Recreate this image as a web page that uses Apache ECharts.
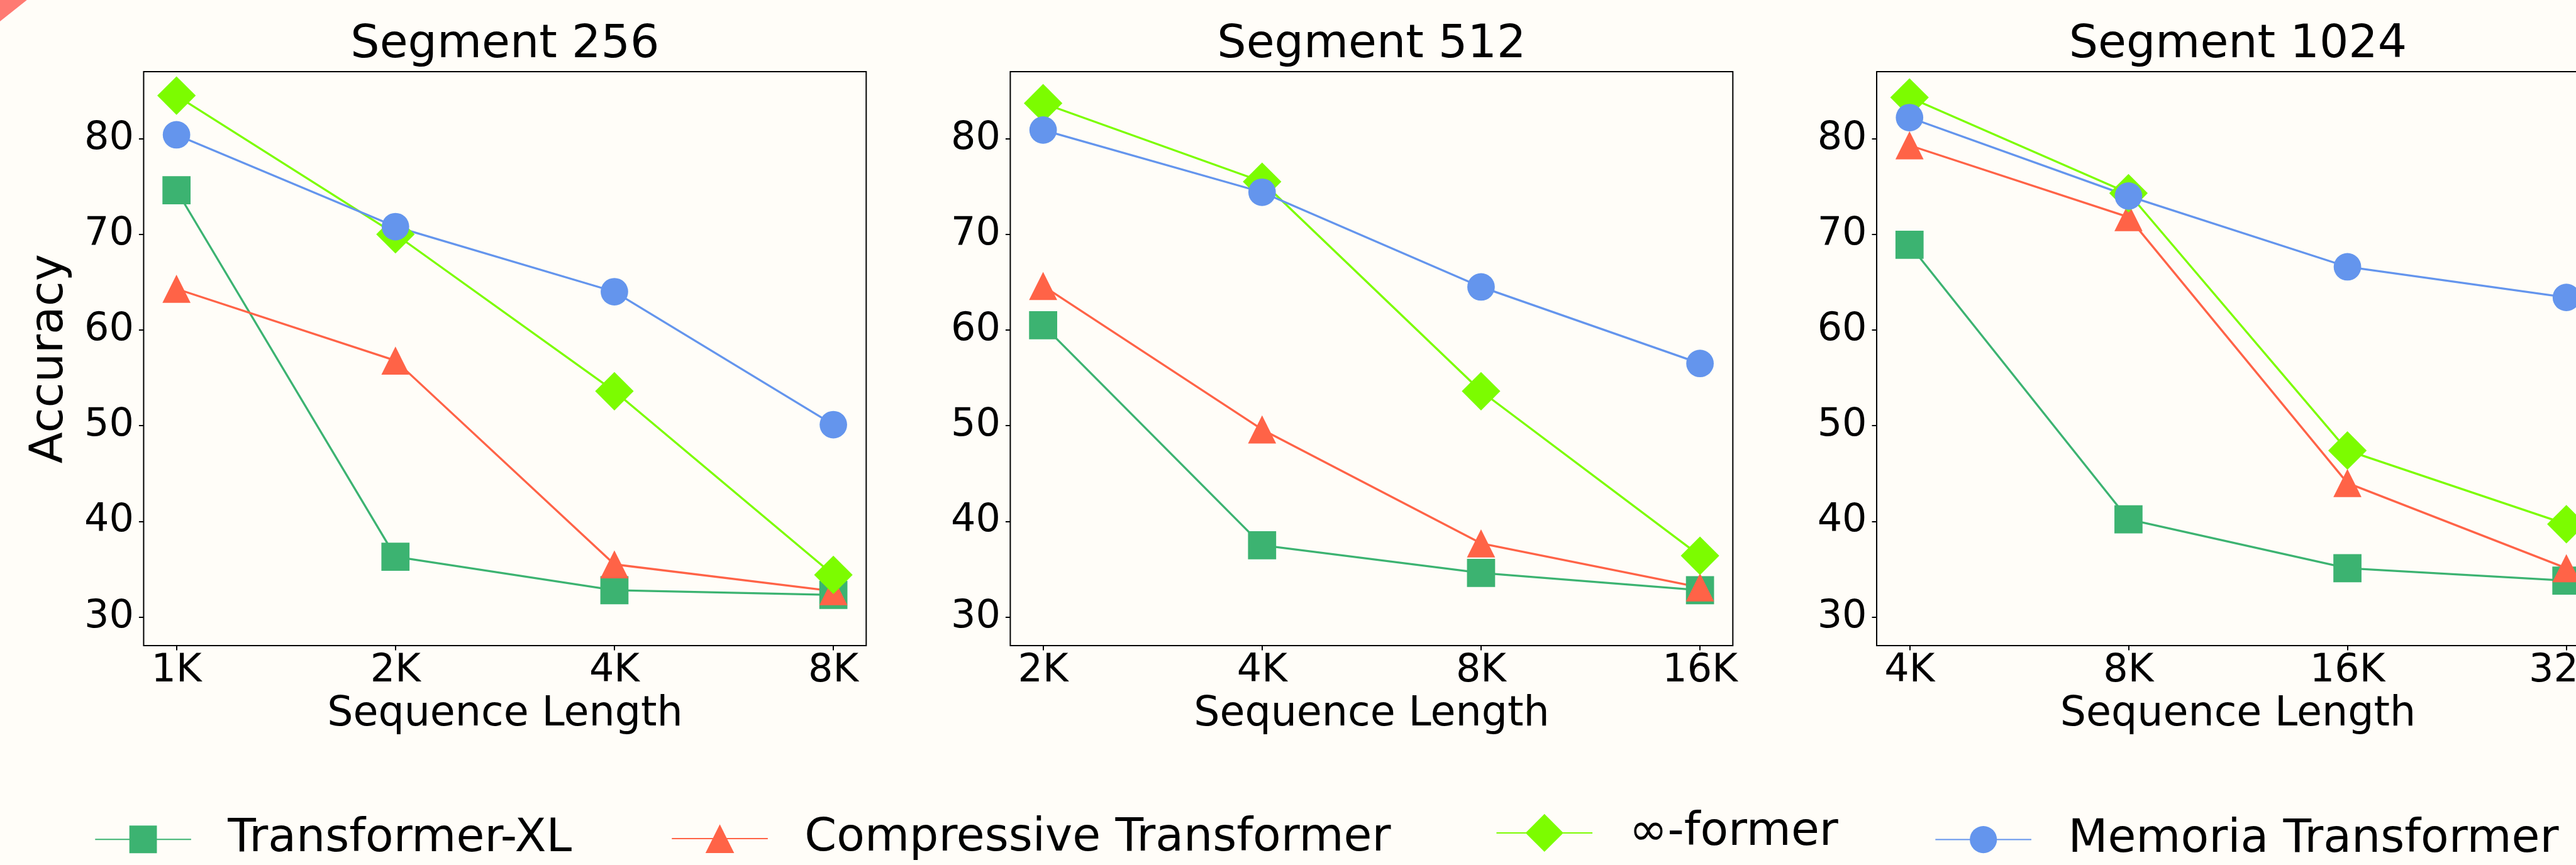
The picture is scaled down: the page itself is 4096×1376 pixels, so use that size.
<!DOCTYPE html>
<html>
<head>
<meta charset="utf-8">
<script src="https://cdn.jsdelivr.net/npm/echarts@6/dist/echarts.min.js"></script>
<style>
html,body{margin:0;padding:0;background:#fffdf8;}
#chart{width:4096px;height:1376px;}
</style>
</head>
<body>
<div id="chart"></div>
<script>
// ---------- data ----------
const panelTitles = ['Segment 256', 'Segment 512', 'Segment 1024'];
const xLabels256 = ['1K', '2K', '4K', '8K'];
const xLabels512 = ['2K', '4K', '8K', '16K'];
const xLabels1024 = ['4K', '8K', '16K', '32K'];
const yTickValues = [30, 40, 50, 60, 70, 80];
const seriesNames = ['Transformer-XL', 'Compressive Transformer', '\u221e-former', 'Memoria Transformer'];

// Segment 256
const txl256 = [74.6, 36.3, 32.8, 32.3];
const comp256 = [64.3, 56.8, 35.5, 32.7];
const inf256 = [84.5, 70.0, 53.6, 34.4];
const mem256 = [80.4, 70.8, 64.0, 50.1];
// Segment 512
const txl512 = [60.5, 37.5, 34.6, 32.8];
const comp512 = [64.6, 49.6, 37.7, 33.1];
const inf512 = [83.7, 75.5, 53.6, 36.4];
const mem512 = [80.9, 74.4, 64.5, 56.5];
// Segment 1024
const txl1024 = [68.9, 40.2, 35.1, 33.8];
const comp1024 = [79.3, 71.8, 44.0, 35.1];
const inf1024 = [84.3, 74.3, 47.4, 39.7];
const mem1024 = [82.2, 74.0, 66.6, 63.4];

// ---------- layout / style ----------
const S = 4096 / 4214;
const FONT = 'DejaVu Sans';
const colors = ['#3cb371', '#ff6347', '#7cfc00', '#6495ed'];
const symbols = ['rect', 'triangle', 'diamond', 'circle'];
const symbolSizes = [46, 46, 63, 45];
const panelLabels = [xLabels256, xLabels512, xLabels1024];
const panelData = [
  [txl256, comp256, inf256, mem256],
  [txl512, comp512, inf512, mem512],
  [txl1024, comp1024, inf1024, mem1024]
];
const gridLefts = [235, 1652.7, 3070];
const gridTop = 117.3, gridW = 1182, gridH = 939.4;

const grids = [], xAxes = [], yAxes = [], series = [], graphics = [];
for (let p = 0; p < 3; p++) {
  grids.push({
    left: gridLefts[p] * S, top: gridTop * S, width: gridW * S, height: gridH * S,
    show: true, borderColor: '#000', borderWidth: 2, backgroundColor: 'transparent',
    containLabel: false, outerBoundsMode: 'none'
  });
  const labels = panelLabels[p];
  const idx = labels.map((_, k) => k);
  xAxes.push({
    gridIndex: p, type: 'value', min: -0.15, max: 3.15, position: 'bottom',
    splitLine: { show: false },
    axisLine: { show: false, onZero: false },
    axisTick: { show: true, inside: false, customValues: idx, length: 7.5, lineStyle: { color: '#000', width: 2 } },
    axisLabel: {
      customValues: idx, formatter: v => labels[Math.round(v)],
      fontSize: 62, fontFamily: FONT, color: '#000', margin: 10
    },
    name: 'Sequence Length', nameLocation: 'middle', nameGap: 77,
    nameTextStyle: { fontSize: 65, fontFamily: FONT, color: '#000' }
  });
  const ya = {
    gridIndex: p, type: 'value', min: 27, max: 87, position: 'left',
    splitLine: { show: false },
    axisLine: { show: false, onZero: false },
    axisTick: { show: true, inside: false, customValues: yTickValues, length: 7.5, lineStyle: { color: '#000', width: 2 } },
    axisLabel: { customValues: yTickValues, fontSize: 62, fontFamily: FONT, color: '#000', margin: 15.5 }
  };
  if (p === 0) {
    ya.name = 'Accuracy';
    ya.nameLocation = 'middle';
    ya.nameRotate = 90;
    ya.nameGap = 112;
    ya.nameTextStyle = { fontSize: 73, fontFamily: FONT, color: '#000' };
  }
  yAxes.push(ya);
  for (let s = 0; s < 4; s++) {
    series.push({
      type: 'line', name: seriesNames[s], xAxisIndex: p, yAxisIndex: p,
      data: panelData[p][s].map((v, k) => [k, v]),
      symbol: symbols[s], symbolSize: symbolSizes[s] * S,
      itemStyle: { color: colors[s] },
      lineStyle: { color: colors[s], width: 3.3 },
      emphasis: { disabled: true },
      animation: false
    });
  }
  graphics.push({
    type: 'text',
    x: (gridLefts[p] + gridW / 2) * S, y: 72.1,
    style: { text: panelTitles[p], font: '73px "DejaVu Sans"', fill: '#000', align: 'center', verticalAlign: 'middle' }
  });
}
graphics.push({
  type: 'polygon',
  shape: { points: [[0, 0], [44 * S, 0], [0, 35 * S]] },
  style: { fill: '#ff7a72' }
});

const legendX = [154.6, 1098, 2447, 3165];
const legendIH = [54.7, 57, 75.3, 54];
const legendCY = 1364.3 * S;
const legends = seriesNames.map((n, i) => ({
  data: [n], left: legendX[i] * S, top: legendCY - legendIH[i] / 2,
  padding: 0, itemWidth: 157 * S, itemHeight: legendIH[i],
  selectedMode: false,
  textStyle: { fontSize: 73, fontFamily: FONT, color: '#000', padding: [0, 0, 0, 53.5] }
}));

const chart = echarts.init(document.getElementById('chart'), null, { renderer: 'canvas' });
chart.setOption({
  backgroundColor: '#fffdf8',
  animation: false,
  grid: grids, xAxis: xAxes, yAxis: yAxes, series: series,
  legend: legends,
  graphic: graphics
});
</script>
</body>
</html>
